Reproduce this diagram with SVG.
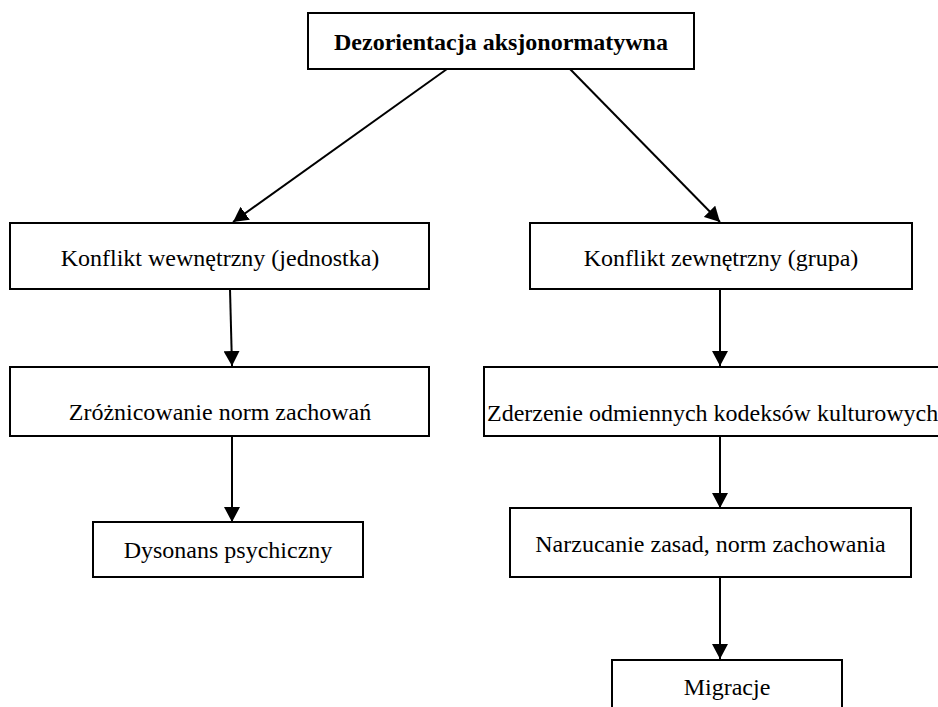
<svg xmlns="http://www.w3.org/2000/svg" width="938" height="707" viewBox="0 0 938 707">
<style>
.box{fill:#fff;stroke:#000;stroke-width:2}
text{font-family:'Liberation Serif','Times New Roman',Times,serif;font-size:24px;font-weight:normal;fill:#000;text-anchor:middle}
text.b{font-weight:bold}
.c{stroke:#000;stroke-width:2;fill:none;marker-end:url(#ah)}
</style>
<defs>
<marker id="ah" markerWidth="15" markerHeight="16" refX="15" refY="8" orient="auto" markerUnits="userSpaceOnUse">
<path d="M0,0 L15,8 L0,16 Z" fill="#000"/>
</marker>
</defs>
<rect width="938" height="707" fill="#fff"/>
<g id="connectors">
<line class="c" x1="447" y1="69" x2="233" y2="222"/>
<line class="c" x1="570" y1="69" x2="720" y2="222"/>
<line class="c" x1="230" y1="289" x2="232" y2="366"/>
<line class="c" x1="720" y1="289" x2="720" y2="366"/>
<line class="c" x1="232" y1="436" x2="232" y2="522"/>
<line class="c" x1="720" y1="436" x2="720" y2="508"/>
<line class="c" x1="720" y1="577" x2="720" y2="659"/>
</g>
<g id="n1">
<rect class="box" x="308" y="13" width="386" height="56"/>
<text class="b" x="501" y="50" font-family="Liberation Serif">Dezorientacja aksjonormatywna</text>
</g>
<g id="n2">
<rect class="box" x="10" y="223" width="419" height="66"/>
<text x="220" y="266" font-family="Liberation Serif">Konflikt wewnętrzny (jednostka)</text>
</g>
<g id="n3">
<rect class="box" x="530" y="223" width="382" height="66"/>
<text x="721" y="266" font-family="Liberation Serif">Konflikt zewnętrzny (grupa)</text>
</g>
<g id="n4">
<rect class="box" x="10" y="367" width="419" height="69"/>
<text x="220" y="420" font-family="Liberation Serif">Zróżnicowanie norm zachowań</text>
</g>
<g id="n5">
<rect class="box" x="484" y="367" width="470" height="69"/>
<text x="487" y="421" font-family="Liberation Serif" style="text-anchor:start">Zderzenie odmiennych kodeksów kulturowych</text>
</g>
<g id="n6">
<rect class="box" x="93" y="522" width="270" height="55"/>
<text x="228" y="558" font-family="Liberation Serif">Dysonans psychiczny</text>
</g>
<g id="n7">
<rect class="box" x="510" y="508" width="401" height="69"/>
<text x="710.5" y="552" font-family="Liberation Serif">Narzucanie zasad, norm zachowania</text>
</g>
<g id="n8">
<rect class="box" x="612" y="660" width="230" height="60"/>
<text x="727" y="695" font-family="Liberation Serif">Migracje</text>
</g>
</svg>
